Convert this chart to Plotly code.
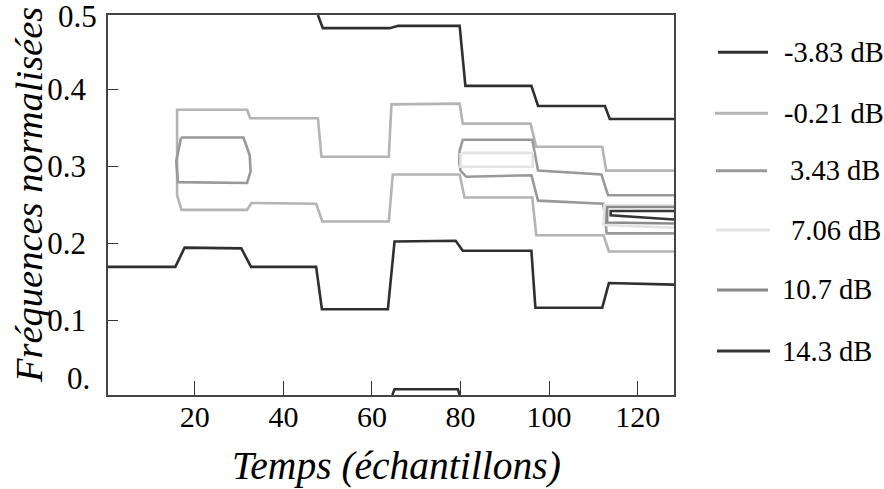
import plotly.graph_objects as go

# ---------------- data (contour polylines, one list per level) ----------------
levels = ["-3.83 dB", "-0.21 dB", "3.43 dB", "7.06 dB", "10.7 dB", "14.3 dB"]
level_colors = ["#2f2f2f", "#b4b4b4", "#999999", "#e3e3e3", "#8a8a8a", "#353535"]

m383_x = [47.8, 48.9, 64.0, 65.9, 79.8, 81.1, 96.0, 97.5, 112.6, 113.7, 128.2, None,
          0.4, 15.6, 17.7, 30.5, 32.7, 47.4, 48.7, 63.6, 65.1, 78.9, 80.5, 96.0, 96.9, 112.0, 113.5, 128.2, None,
          64.6, 65.1, 79.4, 79.8]
m383_y = [0.4961, 0.479, 0.479, 0.482, 0.482, 0.404, 0.404, 0.378, 0.378, 0.361, 0.361, None,
          0.169, 0.169, 0.194, 0.193, 0.169, 0.169, 0.114, 0.114, 0.202, 0.203, 0.190, 0.190, 0.116, 0.116, 0.148, 0.146, None,
          0.0026, 0.010, 0.010, 0.0026]

m021_x = [128.2, 112.9, 112.0, 97.1, 95.8, 80.5, 79.8, 64.4, 63.8, 48.6, 47.8, 32.5, 31.8, 16.0,
          16.0, 17.0, 31.8, 32.8, 47.4, 48.8, 63.8, 64.7, 79.8, 80.9, 96.2, 97.1, 112.3, 113.5, 128.2]
m021_y = [0.294, 0.294, 0.325, 0.325, 0.355, 0.355, 0.381, 0.380, 0.312, 0.312, 0.362, 0.362, 0.373, 0.373,
          0.262, 0.243, 0.243, 0.252, 0.251, 0.228, 0.228, 0.289, 0.289, 0.259, 0.259, 0.210, 0.210, 0.189, 0.189]

p343_x = [16.9, 31.0, 32.4, 32.6, 31.8, 16.2, 15.8, 16.9, None,
          128.2, 113.3, 111.8, 97.5, 96.2, 80.5, 79.8, 79.7, 80.0, 81.3, 96.0, 97.5, 112.2, 112.5, 113.0, 128.2]
p343_y = [0.337, 0.337, 0.314, 0.293, 0.278, 0.279, 0.306, 0.337, None,
          0.262, 0.262, 0.289, 0.294, 0.334, 0.334, 0.320, 0.305, 0.294, 0.286, 0.288, 0.255, 0.251, 0.240, 0.2125, 0.2125]

p706_x = [80.0, 96.3, 96.3, 80.0, 80.0, None, 128.2, 112.5, 112.3, 128.2]
p706_y = [0.317, 0.317, 0.299, 0.299, 0.317, None, 0.249, 0.249, 0.2234, 0.220]

p107_x = [128.2, 113.1, 113.1, 128.2]
p107_y = [0.2468, 0.2468, 0.2266, 0.2253]

p143_x = [128.2, 113.9, 113.9, 128.2]
p143_y = [0.2416, 0.2416, 0.236, 0.2305]

xs = [m383_x, m021_x, p343_x, p706_x, p107_x, p143_x]
ys = [m383_y, m021_y, p343_y, p706_y, p107_y, p143_y]

x_ticks = [20, 40, 60, 80, 100, 120]
y_ticks = [0.1, 0.2, 0.3, 0.4]
y_ticktext = ["0.1", "0.2", "0.3", "0.4"]

x_title = "Temps (échantillons)"
y_title = "Fréquences normalisées"

# ---------------- figure ----------------
FONT = "Liberation Serif, DejaVu Serif, Noto Serif, serif"
L, R, T, B = 108, 210, 15, 94
W, H = 884, 489
PW, PH = W - L - R, H - T - B

fig = go.Figure()
for name, col, x, y in zip(levels, level_colors, xs, ys):
    fig.add_trace(go.Scatter(x=x, y=y, mode="lines", name=name, showlegend=False,
                             line=dict(color=col, width=2.6), connectgaps=False,
                             hoverinfo="skip"))

def px2paper_x(px):
    return (px - L) / PW

def px2paper_y(py):
    return (H - B - py) / PH

# manual legend
leg_line_y = [52.3, 113.3, 170.7, 230, 290, 351]
leg_line_x0 = [718, 715, 716, 716, 717, 717]
leg_line_x1 = [768, 768, 767, 770, 768, 770]
leg_text_x = [781.5, 781.5, 788, 789, 779.5, 779.5]
shapes = []
annotations = []
for i, name in enumerate(levels):
    shapes.append(dict(type="line", xref="paper", yref="paper",
                       x0=px2paper_x(leg_line_x0[i]), x1=px2paper_x(leg_line_x1[i]),
                       y0=px2paper_y(leg_line_y[i]), y1=px2paper_y(leg_line_y[i]),
                       line=dict(color=level_colors[i], width=3)))
    annotations.append(dict(text=name, xref="paper", yref="paper",
                            x=px2paper_x(leg_text_x[i]), y=px2paper_y(leg_line_y[i]),
                            xanchor="left", yanchor="middle", showarrow=False,
                            font=dict(family=FONT, size=28.5, color="black")))

# end labels of y axis
annotations.append(dict(text="0.5", xref="paper", yref="paper", x=px2paper_x(99), y=px2paper_y(16),
                        xanchor="right", yanchor="middle", showarrow=False,
                        font=dict(family=FONT, size=31, color="black")))
annotations.append(dict(text="0.", xref="paper", yref="paper", x=px2paper_x(92), y=px2paper_y(378),
                        xanchor="right", yanchor="middle", showarrow=False,
                        font=dict(family=FONT, size=31, color="black")))

# axis titles
annotations.append(dict(text="<i>" + x_title + "</i>", xref="paper", yref="paper",
                        x=px2paper_x(396), y=px2paper_y(466), xanchor="center", yanchor="middle",
                        showarrow=False, font=dict(family=FONT, size=39.5, color="black")))
annotations.append(dict(text="<i>" + y_title + "</i>", xref="paper", yref="paper",
                        x=px2paper_x(29), y=px2paper_y(195), xanchor="center", yanchor="middle",
                        textangle=-90, showarrow=False, font=dict(family=FONT, size=38.5, color="black")))

fig.update_layout(
    width=W, height=H,
    margin=dict(l=L, r=R, t=T, b=B, pad=0, autoexpand=False),
    paper_bgcolor="white", plot_bgcolor="white",
    shapes=shapes, annotations=annotations,
    showlegend=False,
    font=dict(family=FONT),
)
fig.update_xaxes(
    range=[0.4, 128.2], tickvals=x_ticks, ticks="inside", ticklen=14, tickwidth=1.3, tickcolor="#333",
    showline=True, mirror=True, linecolor="#444", linewidth=1.5, showgrid=False, zeroline=False,
    tickfont=dict(family=FONT, size=30, color="black"), ticklabelstandoff=-6, automargin=False,
)
fig.update_yaxes(
    range=[0.0026, 0.4961], tickvals=y_ticks, ticktext=y_ticktext, ticks="inside", ticklen=10, tickwidth=1.3,
    tickcolor="#333",
    showline=True, mirror=True, linecolor="#444", linewidth=1.5, showgrid=False, zeroline=False,
    tickfont=dict(family=FONT, size=31, color="black"), ticklabelstandoff=14, automargin=False,
)

fig.write_html("out.html", post_script="document.body.style.margin='0px';",
               config={"displayModeBar": False})
